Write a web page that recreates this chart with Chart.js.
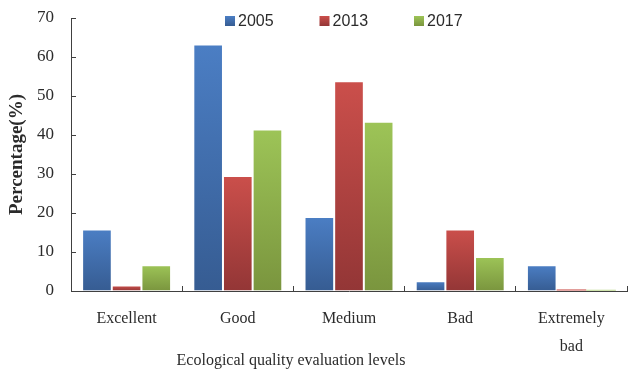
<!DOCTYPE html>
<html>
<head>
<meta charset="utf-8">
<script src="https://cdn.jsdelivr.net/npm/chart.js@4"></script>
<style>
  html, body { margin: 0; padding: 0; background: #fff; }
  #wrap { width: 629px; height: 371px; }
</style>
</head>
<body>
<div id="wrap"><canvas id="c" width="629" height="371"></canvas></div>
<script>
const categories = ['Excellent', 'Good', 'Medium', 'Bad', ['Extremely', 'bad']];
const years = ['2005', '2013', '2017'];
const values2005 = [15.8, 63.2, 19.0, 2.5, 6.6];
const values2013 = [1.4, 29.5, 53.8, 15.8, 0.4];
const values2017 = [6.6, 41.4, 43.4, 8.7, 0.3];
const yTicks = [0, 10, 20, 30, 40, 50, 60, 70];

// top / bottom shades for each series' vertical gradient
const shades = [
  ['#4b7ec4', '#365c92'],
  ['#cb4f4b', '#933636'],
  ['#9dc457', '#7a953e']
];

const serif = "'Liberation Serif', 'Times New Roman', serif";
const sans = "'Liberation Sans Narrow', 'Arial Narrow', 'Liberation Sans', sans-serif";
const axisColor = '#404040';
const textColor = '#2b2b2b';

function barGradient(seriesIndex) {
  return function (ctx) {
    const chart = ctx.chart;
    const area = chart.chartArea;
    if (!area || ctx.type !== 'data') return shades[seriesIndex][0];
    const y = chart.scales.y;
    const top = y.getPixelForValue(ctx.raw);
    const bottom = y.getPixelForValue(0);
    if (!isFinite(top) || Math.abs(bottom - top) < 2) return shades[seriesIndex][0];
    const g = chart.ctx.createLinearGradient(0, top, 0, bottom);
    g.addColorStop(0, shades[seriesIndex][0]);
    g.addColorStop(1, shades[seriesIndex][1]);
    return g;
  };
}

// legend row drawn above the bars
const legendRow = {
  id: 'legendRow',
  afterDraw(chart) {
    const c = chart.ctx;
    c.save();
    c.font = '16px ' + sans;
    c.textBaseline = 'middle';
    c.textAlign = 'left';
    const startX = 225, step = 94.5, cy = 21;
    chart.data.datasets.forEach((ds, i) => {
      const x = startX + i * step;
      const g = c.createLinearGradient(0, cy - 5, 0, cy + 5);
      g.addColorStop(0, shades[i][0]);
      g.addColorStop(1, shades[i][1]);
      c.fillStyle = g;
      c.fillRect(x, cy - 5, 10, 10);
      c.fillStyle = textColor;
      c.fillText(ds.label, x + 13, cy + 1);
    });
    c.restore();
  }
};

// x-axis caption below the category labels
const xCaption = {
  id: 'xCaption',
  afterDraw(chart) {
    const c = chart.ctx;
    c.save();
    c.font = '16px ' + serif;
    c.fillStyle = textColor;
    c.textAlign = 'center';
    c.textBaseline = 'middle';
    c.fillText('Ecological quality evaluation levels', 291, 361);
    c.restore();
  }
};

const seriesValues = [values2005, values2013, values2017];

new Chart(document.getElementById('c'), {
  type: 'bar',
  data: {
    labels: categories,
    datasets: years.map((yr, i) => ({
      label: yr,
      data: seriesValues[i],
      backgroundColor: barGradient(i),
      borderColor: 'rgba(255,255,255,0.35)',
      borderWidth: (ctx) => (ctx.raw !== undefined && ctx.raw < 1 ? 0 : 1),
      categoryPercentage: 0.8,
      barPercentage: 1.0
    }))
  },
  options: {
    responsive: false,
    animation: false,
    devicePixelRatio: 1,
    layout: { padding: { top: 18, right: 2, left: 0, bottom: 0 } },
    plugins: {
      legend: { display: false },
      tooltip: { enabled: false }
    },
    scales: {
      x: {
        afterFit(scale) {
          scale.height = 80;
          scale.paddingTop = 0; scale.paddingBottom = 0;
          scale.paddingLeft = 0; scale.paddingRight = 0;
        },
        grid: {
          offset: true,
          drawOnChartArea: false,
          drawTicks: true,
          tickLength: -5,
          color: axisColor,
          lineWidth: 1
        },
        border: { display: true, color: axisColor, width: 1 },
        ticks: {
          color: textColor,
          padding: 19.5,
          maxRotation: 0,
          autoSkip: false,
          font: { family: serif, size: 16, lineHeight: 1.7 }
        }
      },
      y: {
        min: 0,
        max: 70,
        afterFit(scale) {
          scale.width = 71;
          scale.paddingTop = 0; scale.paddingBottom = 0;
        },
        afterBuildTicks(scale) { scale.ticks = yTicks.map(v => ({ value: v })); },
        grid: {
          drawOnChartArea: false,
          drawTicks: true,
          tickLength: -5,
          color: axisColor,
          lineWidth: 1
        },
        border: { display: true, color: axisColor, width: 1 },
        ticks: {
          color: textColor,
          padding: 22,
          font: { family: serif, size: 17 }
        },
        title: {
          display: true,
          text: 'Percentage(%)',
          color: textColor,
          padding: { top: 6, bottom: 0 },
          font: { family: serif, size: 19, weight: 'bold' }
        }
      }
    }
  },
  plugins: [legendRow, xCaption]
});
</script>
</body>
</html>
